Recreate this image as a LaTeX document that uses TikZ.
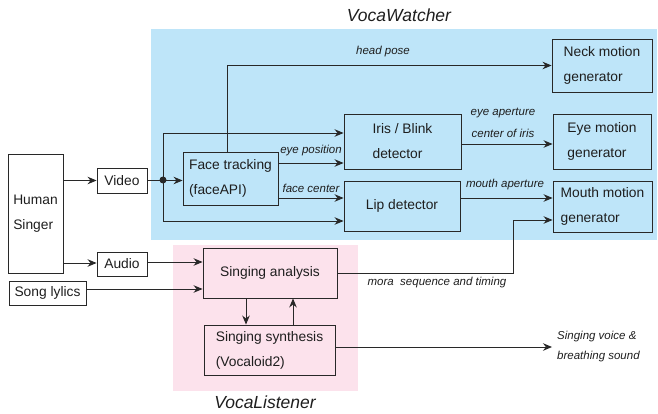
\documentclass[tikz,border=0pt]{standalone}
\usepackage{fontspec}
\setmainfont{Liberation Sans}
\usetikzlibrary{arrows.meta}
\definecolor{bluebg}{RGB}{190,229,249}
\definecolor{pinkbg}{RGB}{252,226,236}
\definecolor{ln}{RGB}{40,40,40}
\definecolor{tx}{RGB}{30,30,30}
\tikzset{
  blk/.style={draw=ln, line width=0.9pt, inner sep=0pt, align=left, text=tx,
    font=\fontsize{13.8}{25}\selectfont},
  lbl/.style={inner sep=0pt, text=tx, font=\fontsize{11.5}{14}\selectfont\itshape},
  ttl/.style={inner sep=0pt, text=tx, font=\fontsize{17.5}{20}\selectfont\itshape},
  arr/.style={draw=ln, line width=0.9pt, -{Stealth[length=9pt,width=7.5pt]}},
}
\begin{document}
\begin{tikzpicture}[x=1pt,y=-1pt]
\useasboundingbox (0,0) rectangle (658,414);
\fill[bluebg] (151,29) rectangle (657,240);
\fill[pinkbg] (173,245) rectangle (358,391);
\node[ttl] (tw) at (399,15) {VocaWatcher};
\node[ttl] (tl) at (265,402) {VocaListener};

\node[blk, minimum width=55pt, minimum height=119pt] (singer) at (35.5,213.5) {Human\\Singer};
\node[blk, minimum width=50pt, minimum height=25pt] (video) at (122,180.5) {Video};
\node[blk, minimum width=50pt, minimum height=24pt] (audio) at (122,264) {Audio};
\node[blk, minimum width=77pt, minimum height=24pt] (lyrics) at (47.5,293) {Song lylics};
\node[blk, minimum width=95pt, minimum height=53pt] (face) at (230.5,178.5) {Face tracking\\(faceAPI)};
\node[blk, minimum width=117pt, minimum height=55pt] (iris) at (402.5,141.5) {Iris / Blink\\detector};
\node[blk, minimum width=116pt, minimum height=50pt] (lip) at (402,206) {Lip detector};
\node[blk, minimum width=100pt, minimum height=53pt] (neck) at (602,65.5) {Neck motion\\generator};
\node[blk, minimum width=98pt, minimum height=55pt] (eye) at (602,141.5) {Eye motion\\generator};
\node[blk, minimum width=99pt, minimum height=51pt] (mouth) at (602.5,206.5) {Mouth motion\\generator};
\node[blk, minimum width=134pt, minimum height=50pt] (analysis) at (270,273) {Singing analysis};
\node[blk, minimum width=131pt, minimum height=50pt] (synth) at (269.5,350) {Singing synthesis\\(Vocaloid2)};

\coordinate (dot) at (163,180);
\coordinate (out) at (552,347);
\coordinate (turn) at (513,273);

\draw[arr] (singer.east |- video.west) -- (video.west);
\draw[arr] (video.east) -- (face.west |- video.east);
\fill[ln] (dot) circle (3.5pt);
\draw[arr] (dot) |- (iris.west |- 0,133);
\draw[arr] (dot) |- (lip.west |- 0,221);
\draw[arr] (face.north -| 227,0) |- (neck.west);
\draw[arr] (face.east |- 0,163) -- (iris.west |- 0,163);
\draw[arr] (face.east |- 0,198) -- (lip.west |- 0,198);
\draw[arr] (iris.east |- 0,144) -- (eye.west |- 0,144);
\draw[arr] (lip.east |- 0,198) -- (mouth.west |- 0,198);
\draw[arr] (analysis.east) -- (turn) |- (mouth.west |- 0,220);
\draw[arr] (singer.east |- 0,263) -- (audio.west |- 0,263);
\draw[arr] (audio.east |- 0,262) -- (analysis.west |- 0,262);
\draw[arr] (lyrics.east |- 0,289) -- (analysis.west |- 0,289);
\draw[arr] (analysis.south -| 246,0) -- (synth.north -| 246,0);
\draw[arr] (synth.north -| 293,0) -- (analysis.south -| 293,0);
\draw[arr] (synth.east |- out) -- (out);

\node[lbl] (lhp) at (383,52) {head pose};
\node[lbl] (lep) at (311,151) {eye position};
\node[lbl] (lfc) at (311,188) {face center};
\node[lbl] (lea) at (503,113) {eye aperture};
\node[lbl] (lci) at (503,133) {center of iris};
\node[lbl] (lma) at (505,185) {mouth aperture};
\node[lbl] (lmo) at (437,283) {mora\ \ sequence and timing};
\node[lbl, anchor=west] (lsv) at (557,337) {Singing voice \&};
\node[lbl, anchor=west] (lbs) at (557,357) {breathing sound};
\end{tikzpicture}
\end{document}
